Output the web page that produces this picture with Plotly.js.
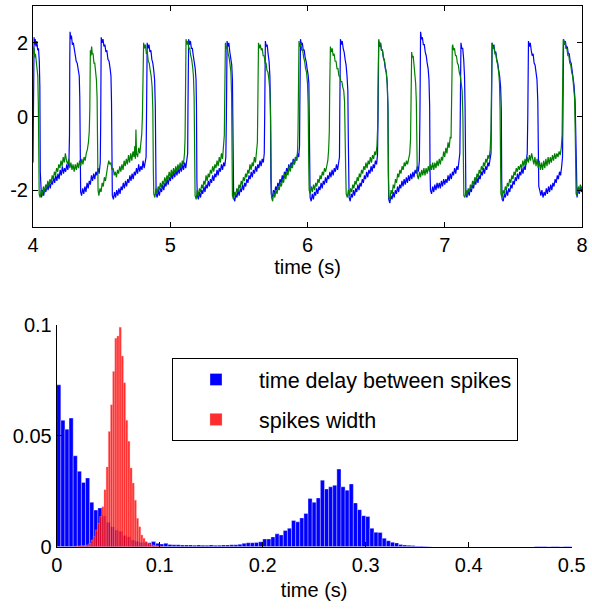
<!DOCTYPE html>
<html>
<head>
<meta charset="utf-8">
<script src="https://cdn.plot.ly/plotly-3.0.1.min.js"></script>
<style>html,body{margin:0;padding:0;background:#fff;}#chart{width:592px;height:609px;}</style>
</head>
<body>
<div id="chart"></div>
<script>
const blueSignal = [
[4.000,-1.25],[4.002,0.5],[4.004,2.0],[4.008,2.15],[4.012,1.95],[4.016,2.1],[4.022,1.9],[4.028,2.05],[4.034,1.8],[4.040,1.85],[4.046,1.5],[4.050,0.8],[4.053,-1.5],[4.056,-2.1],
[4.062,-2.2],[4.070,-2.0],[4.078,-2.15],[4.086,-1.95],[4.094,-2.05],[4.102,-1.85],[4.110,-2.0],[4.118,-1.8],[4.126,-1.95],[4.134,-1.75],[4.142,-1.85],[4.150,-1.65],[4.158,-1.8],[4.166,-1.6],[4.174,-1.75],[4.182,-1.55],[4.190,-1.7],[4.198,-1.45],[4.206,-1.6],[4.214,-1.35],[4.222,-1.55],[4.230,-1.4],[4.238,-1.5],[4.246,-1.3],[4.254,-1.45],[4.262,-1.2],
[4.266,-0.5],[4.268,1.5],[4.270,2.3],[4.275,2.1],[4.280,2.2],[4.287,1.95],[4.294,2.0],[4.301,1.8],[4.308,1.7],[4.315,1.5],[4.322,1.45],[4.330,1.25],[4.337,1.1],[4.341,0.5],[4.344,-1.5],[4.347,-2.05],
[4.354,-2.15],[4.362,-1.95],[4.370,-2.1],[4.378,-1.9],[4.386,-2.05],[4.394,-1.8],[4.402,-1.95],[4.410,-1.75],[4.418,-1.85],[4.426,-1.6],[4.434,-1.75],[4.442,-1.55],[4.450,-1.7],[4.458,-1.5],[4.466,-1.6],[4.474,-1.4],[4.482,-1.55],[4.490,-1.25],
[4.493,-0.3],[4.495,1.6],[4.497,2.15],[4.503,2.0],[4.510,2.1],[4.517,1.9],[4.524,1.95],[4.531,1.75],[4.538,1.8],[4.546,1.55],[4.554,1.5],[4.562,1.3],[4.568,1.1],[4.572,0.4],[4.575,-1.6],[4.578,-2.15],
[4.586,-2.25],[4.594,-2.05],[4.602,-2.2],[4.610,-2.0],[4.618,-2.15],[4.626,-1.95],[4.634,-2.1],[4.642,-1.9],[4.650,-2.0],[4.658,-1.8],[4.666,-1.95],[4.674,-1.75],[4.682,-1.9],[4.690,-1.7],[4.698,-1.8],[4.706,-1.6],[4.714,-1.75],[4.722,-1.55],[4.730,-1.7],[4.738,-1.5],[4.746,-1.6],[4.754,-1.4],[4.762,-1.55],[4.770,-1.3],[4.778,-1.5],[4.786,-1.35],[4.794,-1.45],[4.802,-1.2],[4.810,-1.4],[4.818,-1.25],[4.824,-1.1],
[4.827,0.0],[4.829,1.7],[4.832,2.0],[4.838,1.85],[4.845,1.95],[4.852,1.75],[4.859,1.8],[4.866,1.55],[4.873,1.45],[4.880,1.25],[4.886,1.0],[4.891,0.3],[4.894,-1.6],[4.897,-2.1],
[4.905,-2.2],[4.913,-2.0],[4.921,-2.15],[4.929,-1.95],[4.937,-2.05],[4.945,-1.85],[4.953,-2.0],[4.961,-1.8],[4.969,-1.9],[4.977,-1.7],[4.985,-1.85],[4.993,-1.65],[5.001,-1.75],[5.009,-1.55],[5.017,-1.7],[5.025,-1.5],[5.033,-1.65],[5.041,-1.45],[5.049,-1.6],[5.057,-1.4],[5.065,-1.55],[5.073,-1.35],[5.081,-1.5],[5.089,-1.3],[5.097,-1.45],[5.105,-1.25],[5.113,-1.4],[5.121,-1.2],[5.127,-1.0],
[5.129,0.2],[5.131,1.8],[5.134,2.1],[5.140,1.95],[5.147,2.05],[5.154,1.85],[5.161,1.85],[5.168,1.65],[5.175,1.5],[5.182,1.3],[5.188,1.0],[5.191,0.3],[5.194,-1.7],[5.197,-2.15],
[5.205,-2.25],[5.213,-2.05],[5.221,-2.2],[5.229,-2.0],[5.237,-2.1],[5.245,-1.9],[5.253,-2.05],[5.261,-1.85],[5.269,-1.95],[5.277,-1.75],[5.285,-1.9],[5.293,-1.7],[5.301,-1.8],[5.309,-1.6],[5.317,-1.75],[5.325,-1.55],[5.333,-1.65],[5.341,-1.45],[5.349,-1.6],[5.357,-1.4],[5.365,-1.5],[5.373,-1.3],[5.381,-1.45],[5.389,-1.25],[5.397,-1.35],[5.405,-1.1],
[5.409,0.0],[5.411,1.7],[5.414,2.05],[5.420,1.9],[5.427,2.0],[5.434,1.75],[5.441,1.6],[5.448,1.4],[5.453,1.0],[5.456,0.2],[5.459,-1.7],[5.462,-2.2],
[5.470,-2.3],[5.478,-2.1],[5.486,-2.2],[5.494,-2.0],[5.502,-2.15],[5.510,-1.95],[5.518,-2.05],[5.526,-1.85],[5.534,-2.0],[5.542,-1.8],[5.550,-1.9],[5.558,-1.7],[5.566,-1.8],[5.574,-1.6],[5.582,-1.7],[5.590,-1.5],[5.598,-1.65],[5.606,-1.45],[5.614,-1.55],[5.622,-1.35],[5.630,-1.5],[5.638,-1.3],[5.646,-1.4],[5.654,-1.2],[5.662,-1.35],[5.670,-1.15],[5.678,-1.25],[5.685,-1.0],
[5.688,0.0],[5.690,1.7],[5.693,2.05],[5.699,1.9],[5.706,1.95],[5.713,1.7],[5.720,1.5],[5.726,1.1],[5.730,0.3],[5.733,-1.7],[5.736,-2.1],
[5.744,-2.2],[5.752,-2.0],[5.760,-2.1],[5.768,-1.9],[5.776,-2.0],[5.784,-1.8],[5.792,-1.9],[5.800,-1.7],[5.808,-1.8],[5.816,-1.6],[5.824,-1.7],[5.832,-1.5],[5.840,-1.6],[5.848,-1.4],[5.856,-1.5],[5.864,-1.3],[5.872,-1.45],[5.880,-1.25],[5.888,-1.35],[5.896,-1.15],[5.904,-1.3],[5.912,-1.1],[5.920,-1.2],[5.928,-1.0],[5.936,-1.1],[5.942,-0.8],
[5.944,0.2],[5.946,1.8],[5.949,2.1],[5.955,1.95],[5.962,2.0],[5.969,1.8],[5.976,1.8],[5.983,1.6],[5.990,1.5],[5.997,1.3],[6.004,1.15],[6.010,0.9],[6.013,0.2],[6.016,-1.7],[6.019,-2.2],
[6.027,-2.3],[6.035,-2.1],[6.043,-2.25],[6.051,-2.05],[6.059,-2.15],[6.067,-1.95],[6.075,-2.1],[6.083,-1.9],[6.091,-2.0],[6.099,-1.8],[6.107,-1.95],[6.115,-1.75],[6.123,-1.85],[6.131,-1.65],[6.139,-1.8],[6.147,-1.6],[6.155,-1.7],[6.163,-1.5],[6.171,-1.65],[6.179,-1.45],[6.187,-1.6],[6.195,-1.4],[6.203,-1.5],[6.211,-1.3],[6.219,-1.45],[6.227,-1.25],[6.233,-1.1],
[6.235,0.0],[6.237,1.8],[6.240,2.1],[6.246,1.95],[6.253,2.05],[6.260,1.85],[6.267,1.75],[6.274,1.55],[6.281,1.4],[6.288,1.1],[6.294,0.7],[6.297,-0.5],[6.300,-1.8],[6.303,-2.2],
[6.311,-2.3],[6.319,-2.1],[6.327,-2.2],[6.335,-2.0],[6.343,-2.15],[6.351,-1.95],[6.359,-2.05],[6.367,-1.85],[6.375,-2.0],[6.383,-1.8],[6.391,-1.9],[6.399,-1.7],[6.407,-1.8],[6.415,-1.6],[6.423,-1.7],[6.431,-1.5],[6.439,-1.65],[6.447,-1.45],[6.455,-1.55],[6.463,-1.35],[6.471,-1.5],[6.479,-1.3],[6.487,-1.4],[6.495,-1.2],[6.503,-1.3],[6.510,-1.05],
[6.514,0.0],[6.516,1.7],[6.519,2.05],[6.525,1.9],[6.532,2.0],[6.539,1.8],[6.546,1.8],[6.553,1.6],[6.560,1.5],[6.567,1.3],[6.574,1.2],[6.581,0.9],[6.586,0.3],[6.589,-1.6],[6.592,-2.25],
[6.600,-2.35],[6.608,-2.15],[6.616,-2.25],[6.624,-2.05],[6.632,-2.2],[6.640,-2.0],[6.648,-2.1],[6.656,-1.9],[6.664,-2.05],[6.672,-1.85],[6.680,-1.95],[6.688,-1.75],[6.696,-1.9],[6.704,-1.7],[6.712,-1.85],[6.720,-1.65],[6.728,-1.8],[6.736,-1.6],[6.744,-1.75],[6.752,-1.55],[6.760,-1.7],[6.768,-1.5],[6.776,-1.65],[6.784,-1.45],[6.792,-1.55],[6.800,-1.35],[6.808,-1.5],[6.815,-1.2],
[6.819,0.0],[6.821,1.9],[6.824,2.3],[6.830,2.1],[6.837,2.15],[6.844,1.95],[6.851,1.95],[6.858,1.75],[6.865,1.65],[6.872,1.45],[6.879,1.3],[6.885,1.0],[6.890,0.3],[6.893,-1.5],[6.896,-2.0],
[6.904,-2.1],[6.912,-1.9],[6.920,-2.05],[6.928,-1.85],[6.936,-2.0],[6.944,-1.8],[6.952,-1.95],[6.960,-1.8],[6.968,-1.95],[6.976,-1.75],[6.984,-1.9],[6.992,-1.7],[7.000,-1.85],[7.008,-1.7],[7.016,-1.8],[7.024,-1.6],[7.032,-1.75],[7.040,-1.55],[7.048,-1.7],[7.056,-1.5],[7.064,-1.6],[7.072,-1.4],[7.080,-1.55],[7.088,-1.35],[7.096,-1.45],[7.104,-1.2],[7.110,-1.0],
[7.113,0.0],[7.115,1.7],[7.118,2.0],[7.124,1.85],[7.131,1.85],[7.138,1.55],[7.144,1.1],[7.148,0.3],[7.151,-1.6],[7.154,-2.1],
[7.162,-2.2],[7.170,-2.0],[7.178,-2.15],[7.186,-1.95],[7.194,-2.05],[7.202,-1.85],[7.210,-1.95],[7.218,-1.75],[7.226,-1.85],[7.234,-1.65],[7.242,-1.8],[7.250,-1.6],[7.258,-1.7],[7.266,-1.5],[7.274,-1.6],[7.282,-1.4],[7.290,-1.55],[7.298,-1.35],[7.306,-1.45],[7.314,-1.25],[7.322,-1.35],[7.330,-1.15],[7.337,-1.0],
[7.340,0.0],[7.342,1.7],[7.345,2.0],[7.351,1.85],[7.358,1.95],[7.365,1.75],[7.372,1.75],[7.379,1.55],[7.386,1.45],[7.393,1.25],[7.400,1.1],[7.407,0.8],[7.412,0.2],[7.415,-1.7],[7.418,-2.25],
[7.426,-2.3],[7.434,-2.1],[7.442,-2.2],[7.450,-2.0],[7.458,-2.15],[7.466,-1.95],[7.474,-2.05],[7.482,-1.85],[7.490,-1.95],[7.498,-1.75],[7.506,-1.85],[7.514,-1.65],[7.522,-1.75],[7.530,-1.55],[7.538,-1.7],[7.546,-1.5],[7.554,-1.6],[7.562,-1.4],[7.570,-1.55],[7.578,-1.35],[7.586,-1.45],[7.594,-1.2],[7.601,-1.0],
[7.605,0.0],[7.607,1.7],[7.610,2.05],[7.616,1.9],[7.623,2.0],[7.630,1.8],[7.637,1.65],[7.644,1.7],[7.651,1.45],[7.658,1.4],[7.665,1.2],[7.672,1.0],[7.678,0.4],[7.682,-1.5],[7.685,-1.9],
[7.692,-2.0],[7.700,-2.15],[7.708,-2.0],[7.716,-2.2],[7.724,-2.05],[7.732,-2.15],[7.740,-1.95],[7.748,-2.1],[7.756,-1.9],[7.764,-2.05],[7.772,-1.85],[7.780,-2.0],[7.788,-1.8],[7.796,-1.9],[7.804,-1.7],[7.812,-1.8],[7.820,-1.6],[7.828,-1.7],[7.836,-1.5],[7.844,-1.6],[7.852,-1.35],[7.858,-1.1],
[7.861,0.0],[7.863,1.8],[7.866,2.1],[7.872,1.95],[7.879,2.05],[7.886,1.85],[7.893,1.9],[7.900,1.7],[7.907,1.7],[7.914,1.5],[7.921,1.45],[7.928,1.25],[7.935,1.1],[7.942,0.85],[7.950,0.4],[7.955,-1.0],[7.958,-2.0],
[7.964,-2.2],[7.972,-1.95],[7.980,-2.1],[7.988,-1.9],[7.996,-2.05],[8.000,-1.95]
];

const greenSignal = [
[4.000,1.9],[4.004,1.7],[4.008,1.85],[4.013,1.6],[4.018,1.7],[4.024,1.5],[4.030,1.4],[4.035,1.1],[4.039,0.3],[4.042,-1.5],[4.045,-2.1],
[4.052,-2.2],[4.060,-2.0],[4.068,-2.15],[4.076,-1.9],[4.084,-2.05],[4.092,-1.85],[4.100,-1.95],[4.108,-1.75],[4.116,-1.9],[4.124,-1.7],[4.132,-1.8],[4.140,-1.6],[4.148,-1.7],[4.156,-1.5],[4.164,-1.6],[4.172,-1.4],[4.180,-1.5],[4.188,-1.3],[4.196,-1.4],[4.204,-1.2],[4.212,-1.35],[4.220,-1.1],[4.228,-1.25],[4.236,-1.0],[4.244,-1.2],[4.252,-1.3],[4.260,-1.15],[4.268,-1.4],[4.276,-1.25],[4.284,-1.45],[4.292,-1.3],[4.300,-1.5],[4.308,-1.3],[4.316,-1.45],[4.324,-1.25],[4.332,-1.4],[4.340,-1.2],[4.348,-1.35],[4.356,-1.15],[4.364,-1.3],[4.372,-1.1],[4.380,-1.2],[4.388,-1.0],[4.396,-0.9],[4.404,-0.7],[4.410,-0.4],[4.414,0.2],
[4.416,1.2],[4.418,1.8],[4.422,1.65],[4.427,1.9],[4.432,1.7],[4.438,1.7],[4.444,1.45],[4.450,1.45],[4.456,1.2],[4.462,1.0],[4.467,0.5],[4.471,-1.0],[4.474,-2.0],
[4.480,-2.15],[4.488,-1.95],[4.496,-2.05],[4.504,-1.8],[4.512,-1.9],[4.520,-1.65],[4.528,-1.75],[4.536,-1.5],[4.544,-1.35],[4.552,-1.2],[4.560,-1.3],[4.568,-1.25],[4.576,-1.45],[4.584,-1.4],[4.592,-1.6],[4.600,-1.5],[4.608,-1.65],[4.616,-1.45],[4.624,-1.55],[4.632,-1.35],[4.640,-1.5],[4.648,-1.3],[4.656,-1.45],[4.664,-1.2],[4.672,-1.35],[4.680,-1.15],[4.688,-1.3],[4.696,-1.05],[4.704,-1.25],[4.712,-1.0],[4.720,-1.2],[4.728,-0.95],[4.736,-1.1],[4.742,-0.8],[4.746,-1.15],[4.750,-0.35],[4.754,-1.0],[4.762,-1.1],[4.770,-0.85],[4.778,-1.0],[4.786,-0.75],[4.792,-0.5],[4.797,0.0],
[4.800,1.2],[4.802,1.9],[4.806,2.0],[4.812,1.85],[4.819,1.95],[4.826,1.7],[4.833,1.75],[4.840,1.5],[4.847,1.45],[4.854,1.25],[4.861,1.1],[4.868,0.8],[4.873,0.2],[4.877,-1.5],[4.880,-2.1],
[4.888,-2.2],[4.896,-1.95],[4.904,-2.1],[4.912,-1.9],[4.920,-2.0],[4.928,-1.8],[4.936,-1.95],[4.944,-1.75],[4.952,-1.85],[4.960,-1.65],[4.968,-1.8],[4.976,-1.6],[4.984,-1.7],[4.992,-1.5],[5.000,-1.65],[5.008,-1.45],[5.016,-1.6],[5.024,-1.4],[5.032,-1.55],[5.040,-1.35],[5.048,-1.5],[5.056,-1.3],[5.064,-1.45],[5.072,-1.25],[5.080,-1.4],[5.088,-1.2],[5.096,-1.3],[5.104,-1.0],[5.108,-0.6],
[5.110,0.5],[5.112,1.8],[5.115,2.1],[5.121,1.95],[5.128,2.05],[5.135,1.85],[5.142,1.85],[5.149,1.65],[5.156,1.55],[5.163,1.35],[5.169,1.1],[5.174,0.5],[5.178,-1.5],[5.181,-2.15],
[5.189,-2.25],[5.197,-2.0],[5.205,-2.15],[5.213,-1.95],[5.221,-2.05],[5.229,-1.85],[5.237,-1.95],[5.245,-1.75],[5.253,-1.85],[5.261,-1.6],[5.269,-1.75],[5.277,-1.55],[5.285,-1.65],[5.293,-1.45],[5.301,-1.55],[5.309,-1.35],[5.317,-1.5],[5.325,-1.3],[5.333,-1.4],[5.341,-1.2],[5.349,-1.35],[5.357,-1.1],[5.365,-1.25],[5.373,-1.0],[5.381,-1.15],[5.389,-0.85],[5.394,-0.5],
[5.397,0.5],[5.399,1.8],[5.402,2.0],[5.408,1.85],[5.415,1.9],[5.422,1.7],[5.429,1.6],[5.436,1.4],[5.442,1.2],[5.447,0.6],[5.450,-1.5],[5.453,-2.15],
[5.461,-2.25],[5.469,-2.05],[5.477,-2.15],[5.485,-1.95],[5.493,-2.05],[5.501,-1.85],[5.509,-1.95],[5.517,-1.75],[5.525,-1.85],[5.533,-1.65],[5.541,-1.75],[5.549,-1.55],[5.557,-1.65],[5.565,-1.45],[5.573,-1.55],[5.581,-1.3],[5.589,-1.45],[5.597,-1.25],[5.605,-1.35],[5.613,-1.1],[5.621,-1.25],[5.629,-1.0],[5.635,-0.7],
[5.638,0.3],[5.640,1.7],[5.643,2.0],[5.649,1.85],[5.656,1.95],[5.663,1.8],[5.670,1.85],[5.677,1.65],[5.684,1.65],[5.691,1.45],[5.698,1.45],[5.705,1.25],[5.712,1.2],[5.719,1.0],[5.726,0.7],[5.731,0.0],[5.735,-1.6],[5.738,-2.2],
[5.746,-2.3],[5.754,-2.05],[5.762,-2.2],[5.770,-2.0],[5.778,-2.1],[5.786,-1.9],[5.794,-2.0],[5.802,-1.8],[5.810,-1.9],[5.818,-1.7],[5.826,-1.8],[5.834,-1.55],[5.842,-1.7],[5.850,-1.5],[5.858,-1.6],[5.866,-1.35],[5.874,-1.5],[5.882,-1.3],[5.890,-1.4],[5.898,-1.2],[5.906,-1.3],[5.914,-1.1],[5.922,-1.2],[5.928,-0.9],[5.931,-0.4],
[5.933,0.6],[5.935,1.8],[5.938,2.05],[5.944,1.9],[5.951,2.0],[5.958,1.8],[5.965,1.8],[5.972,1.6],[5.979,1.5],[5.986,1.3],[5.993,1.2],[6.000,0.9],[6.005,0.3],[6.009,-1.3],[6.012,-2.0],
[6.020,-2.1],[6.028,-1.9],[6.036,-2.05],[6.044,-1.85],[6.052,-2.0],[6.060,-1.8],[6.068,-1.9],[6.076,-1.7],[6.084,-1.8],[6.092,-1.6],[6.100,-1.7],[6.108,-1.5],[6.116,-1.6],[6.124,-1.4],[6.132,-1.5],[6.140,-1.3],[6.148,-1.2],[6.154,-0.9],[6.159,-0.4],
[6.162,0.8],[6.164,1.7],[6.167,1.9],[6.173,1.75],[6.180,1.85],[6.187,1.65],[6.194,1.7],[6.201,1.5],[6.208,1.5],[6.215,1.3],[6.222,1.3],[6.229,1.1],[6.236,1.1],[6.243,0.95],[6.250,0.95],[6.257,0.8],[6.264,0.7],[6.270,0.4],[6.275,-0.3],[6.279,-1.6],[6.282,-2.1],
[6.290,-2.2],[6.298,-2.0],[6.306,-2.15],[6.314,-1.95],[6.322,-2.05],[6.330,-1.85],[6.338,-1.95],[6.346,-1.75],[6.354,-1.85],[6.362,-1.65],[6.370,-1.75],[6.378,-1.55],[6.386,-1.65],[6.394,-1.45],[6.402,-1.55],[6.410,-1.35],[6.418,-1.45],[6.426,-1.25],[6.434,-1.4],[6.442,-1.2],[6.450,-1.3],[6.458,-1.1],[6.466,-1.25],[6.474,-1.05],[6.482,-1.15],[6.490,-0.95],[6.498,-1.05],[6.506,-0.8],[6.511,-0.3],
[6.514,0.8],[6.516,1.9],[6.519,2.1],[6.525,1.95],[6.532,2.0],[6.539,1.8],[6.546,1.8],[6.553,1.6],[6.560,1.55],[6.567,1.35],[6.574,1.2],[6.581,0.9],[6.586,0.2],[6.590,-1.5],[6.593,-2.2],
[6.601,-2.25],[6.609,-2.0],[6.617,-2.1],[6.625,-1.85],[6.633,-1.95],[6.641,-1.7],[6.649,-1.8],[6.657,-1.55],[6.665,-1.65],[6.673,-1.45],[6.681,-1.55],[6.689,-1.35],[6.697,-1.45],[6.705,-1.25],[6.713,-1.35],[6.721,-1.2],[6.729,-1.3],[6.737,-1.1],[6.745,-1.0],[6.751,-0.6],
[6.754,0.5],[6.756,1.6],[6.759,1.75],[6.764,1.6],[6.770,1.65],[6.776,1.4],[6.782,1.2],[6.788,0.9],[6.793,0.4],[6.797,-0.8],[6.800,-1.6],
[6.808,-1.7],[6.816,-1.5],[6.824,-1.65],[6.832,-1.45],[6.840,-1.6],[6.848,-1.4],[6.856,-1.6],[6.864,-1.4],[6.872,-1.55],[6.880,-1.35],[6.888,-1.5],[6.896,-1.3],[6.904,-1.45],[6.912,-1.25],[6.920,-1.45],[6.928,-1.25],[6.936,-1.4],[6.944,-1.2],[6.952,-1.35],[6.960,-1.15],[6.968,-1.3],[6.976,-1.1],[6.984,-1.2],[6.992,-0.95],[7.000,-1.1],[7.008,-0.85],[7.016,-1.0],[7.024,-0.7],[7.032,-0.85],[7.040,-0.55],[7.046,-0.6],[7.050,0.0],
[7.053,1.2],[7.055,1.9],[7.058,1.95],[7.064,1.8],[7.071,1.85],[7.078,1.65],[7.085,1.65],[7.092,1.45],[7.099,1.4],[7.106,1.2],[7.113,1.1],[7.120,0.9],[7.127,0.7],[7.132,0.0],[7.136,-1.5],[7.139,-2.15],
[7.147,-2.2],[7.155,-2.0],[7.163,-2.15],[7.171,-1.95],[7.179,-2.05],[7.187,-1.85],[7.195,-1.95],[7.203,-1.75],[7.211,-1.85],[7.219,-1.65],[7.227,-1.75],[7.235,-1.55],[7.243,-1.65],[7.251,-1.45],[7.259,-1.55],[7.267,-1.35],[7.275,-1.45],[7.283,-1.25],[7.291,-1.35],[7.299,-1.15],[7.307,-1.25],[7.315,-1.05],[7.323,-1.15],[7.331,-0.9],[7.337,-0.4],
[7.340,0.8],[7.342,1.8],[7.345,2.0],[7.351,1.85],[7.358,1.9],[7.365,1.7],[7.372,1.7],[7.379,1.5],[7.386,1.4],[7.393,1.2],[7.399,0.9],[7.403,0.2],[7.406,-1.5],[7.409,-2.1],
[7.417,-2.2],[7.425,-2.0],[7.433,-2.1],[7.441,-1.9],[7.449,-2.0],[7.457,-1.8],[7.465,-1.9],[7.473,-1.7],[7.481,-1.8],[7.489,-1.6],[7.497,-1.7],[7.505,-1.5],[7.513,-1.6],[7.521,-1.4],[7.529,-1.5],[7.537,-1.35],[7.545,-1.45],[7.553,-1.3],[7.561,-1.4],[7.569,-1.2],[7.577,-1.35],[7.585,-1.15],[7.593,-1.3],[7.601,-1.1],[7.609,-1.25],[7.617,-1.05],[7.625,-1.2],[7.633,-1.0],[7.641,-1.15],[7.649,-1.3],[7.657,-1.1],[7.665,-1.35],[7.673,-1.15],[7.681,-1.4],[7.689,-1.2],[7.697,-1.45],[7.705,-1.25],[7.713,-1.45],[7.721,-1.2],[7.729,-1.4],[7.737,-1.15],[7.745,-1.35],[7.753,-1.1],[7.761,-1.3],[7.769,-1.1],[7.777,-1.25],[7.785,-1.05],[7.793,-1.2],[7.801,-1.0],[7.809,-1.15],[7.817,-1.0],[7.825,-1.1],[7.833,-0.95],[7.841,-1.05],[7.849,-0.85],[7.855,-0.5],
[7.858,0.5],[7.860,1.8],[7.863,2.1],[7.869,1.95],[7.876,2.05],[7.883,1.85],[7.890,1.85],[7.897,1.65],[7.904,1.65],[7.911,1.45],[7.918,1.4],[7.925,1.2],[7.932,1.1],[7.939,0.8],[7.946,0.5],[7.951,-0.5],[7.954,-1.6],[7.957,-2.1],
[7.964,-2.15],[7.972,-1.9],[7.980,-2.05],[7.988,-1.85],[7.996,-1.95],[8.000,-1.9]
];

const topXTicks = [4, 5, 6, 7, 8];
const topXTickText = ['4', '5', '6', '7', '8'];
const topYTicks = [-2, 0, 2];
const topYTickText = ['-2', '0', '2'];

// ---------- Bottom panel: normalised histograms ----------
const delayName = 'time delay between spikes';
const delayBinStart = 0;       // left edge of first bin (s)
const delayBinWidth = 0.004;   // bin width (s)
const delayFreq = [
0.073,0.057,0.053,0.058,0.041,0.034,0.029,0.031,0.020,0.0165,
0.0175,0.014,0.011,0.009,0.0075,0.007,0.005,0.0045,0.003,0.0025,
0.002,0.002,0.0018,0.0023,0.0015,0.0012,0.0015,0.001,0.0009,0.0009,
0.0008,0.0008,0.0008,0.0007,0.0008,0.0007,0.0006,0.0008,0.0006,0.0007,
0.0008,0.0008,0.0009,0.0009,0.0011,0.0015,0.0018,0.0018,0.0019,0.0022,
0.0035,0.0035,0.0044,0.0058,0.0053,0.0073,0.0083,0.0118,0.0112,0.013,
0.015,0.0217,0.020,0.022,0.030,0.026,0.027,0.0277,0.035,0.027,
0.0255,0.0283,0.0197,0.0167,0.014,0.0136,0.0083,0.0065,0.0064,0.0038,
0.0027,0.002,0.0017,0.001,0.0008,0.0006,0.0005,0.0003,0.0003,0.0002,
0.0001,0,0,0,0,0,0,0,0,0,
0,0,0,0,0,0,0,0,0,0,
0,0,0,0,0,0,0.0002,0.0002,0.0002,0.0001,
0.0002,0.0002,0.0001,0.0002,0.0002
];

const widthName = 'spikes width';
const widthBinStart = 0.0186;  // left edge of first bin (s)
const widthBinWidth = 0.0021;  // bin width (s)
const widthFreq = [
0.0002,0.0003,0.0004,0.0005,0.0006,0.0008,0.0015,0.003,0.0045,0.0075,
0.0105,0.0136,0.018,0.0257,0.036,0.052,0.064,0.079,0.094,0.095,
0.099,0.086,0.074,0.057,0.0476,0.0355,0.0287,0.021,0.0128,0.009,
0.0053,0.0038,0.0023,0.0015,0.0012,0.0008,0.0006,0.0004,0.0003,0.0002
];

const botXTicks = [0, 0.1, 0.2, 0.3, 0.4, 0.5];
const botXTickText = ['0', '0.1', '0.2', '0.3', '0.4', '0.5'];
const botYTicks = [0, 0.05, 0.1];
const botYTickText = ['0', '0.05', '0.1'];
const xTitle = 'time (s)';

// ---------- Build traces ----------
const traces = [
  {type: 'scatter', mode: 'lines', x: blueSignal.map(p => p[0]), y: blueSignal.map(p => p[1]),
   line: {color: '#0000ff', width: 1.2}, xaxis: 'x', yaxis: 'y', showlegend: false, hoverinfo: 'skip'},
  {type: 'scatter', mode: 'lines', x: greenSignal.map(p => p[0]), y: greenSignal.map(p => p[1]),
   line: {color: '#008000', width: 1.2}, xaxis: 'x', yaxis: 'y', showlegend: false, hoverinfo: 'skip'},
  {type: 'bar', name: delayName, y: delayFreq, x0: delayBinStart + delayBinWidth / 2, dx: delayBinWidth,
   width: delayBinWidth, xaxis: 'x2', yaxis: 'y2', legendgroup: 'a',
   marker: {color: '#0000ff', line: {color: 'rgba(255,255,255,0.55)', width: 0.6}}},
  {type: 'bar', name: widthName, y: widthFreq, x0: widthBinStart + widthBinWidth / 2, dx: widthBinWidth,
   width: widthBinWidth, xaxis: 'x2', yaxis: 'y2', legendgroup: 'b',
   marker: {color: 'rgba(255,0,0,0.82)', line: {color: 'rgba(255,170,170,0.7)', width: 0.5}}}
];

const W = 592, H = 609;
const axisCommon = {
  showline: true, linecolor: '#000', linewidth: 1, ticks: 'inside', ticklen: 5,
  tickcolor: '#000', showgrid: false, zeroline: false, fixedrange: true,
  tickfont: {size: 20, color: '#000'}
};

const layout = {
  width: W, height: H,
  margin: {l: 0, r: 0, t: 0, b: 0},
  paper_bgcolor: '#fff', plot_bgcolor: '#fff',
  font: {family: '"Liberation Sans", Arial, Helvetica, sans-serif', size: 20, color: '#000'},
  barmode: 'overlay', bargap: 0,
  showlegend: true,
  legend: {x: 172 / W, y: 1 - 358 / H, xanchor: 'left', yanchor: 'top',
           bordercolor: '#000', borderwidth: 1, bgcolor: '#fff',
           font: {size: 21.5, color: '#000'}, itemwidth: 76, tracegroupgap: 9,
           traceorder: 'grouped'},
  xaxis: Object.assign({}, axisCommon, {
    domain: [33 / W, 582 / W], range: [4, 8], anchor: 'y', mirror: 'ticks',
    tickmode: 'array', tickvals: topXTicks, ticktext: topXTickText,
    title: {text: xTitle, font: {size: 20}, standoff: 4}
  }),
  yaxis: Object.assign({}, axisCommon, {
    domain: [1 - 227 / H, 1 - 6 / H], range: [-3, 3], anchor: 'x', mirror: 'ticks',
    tickmode: 'array', tickvals: topYTicks, ticktext: topYTickText
  }),
  xaxis2: Object.assign({}, axisCommon, {
    domain: [56.7 / W, 571.7 / W], range: [0, 0.5], anchor: 'y2',
    tickmode: 'array', tickvals: botXTicks, ticktext: botXTickText,
    title: {text: xTitle, font: {size: 20}, standoff: 8}
  }),
  yaxis2: Object.assign({}, axisCommon, {
    domain: [1 - 546.7 / H, 1 - 325 / H], range: [0, 0.1], anchor: 'x2',
    tickmode: 'array', tickvals: botYTicks, ticktext: botYTickText
  })
};

Plotly.newPlot('chart', traces, layout, {displayModeBar: false, staticPlot: true});
</script>
</body>
</html>
